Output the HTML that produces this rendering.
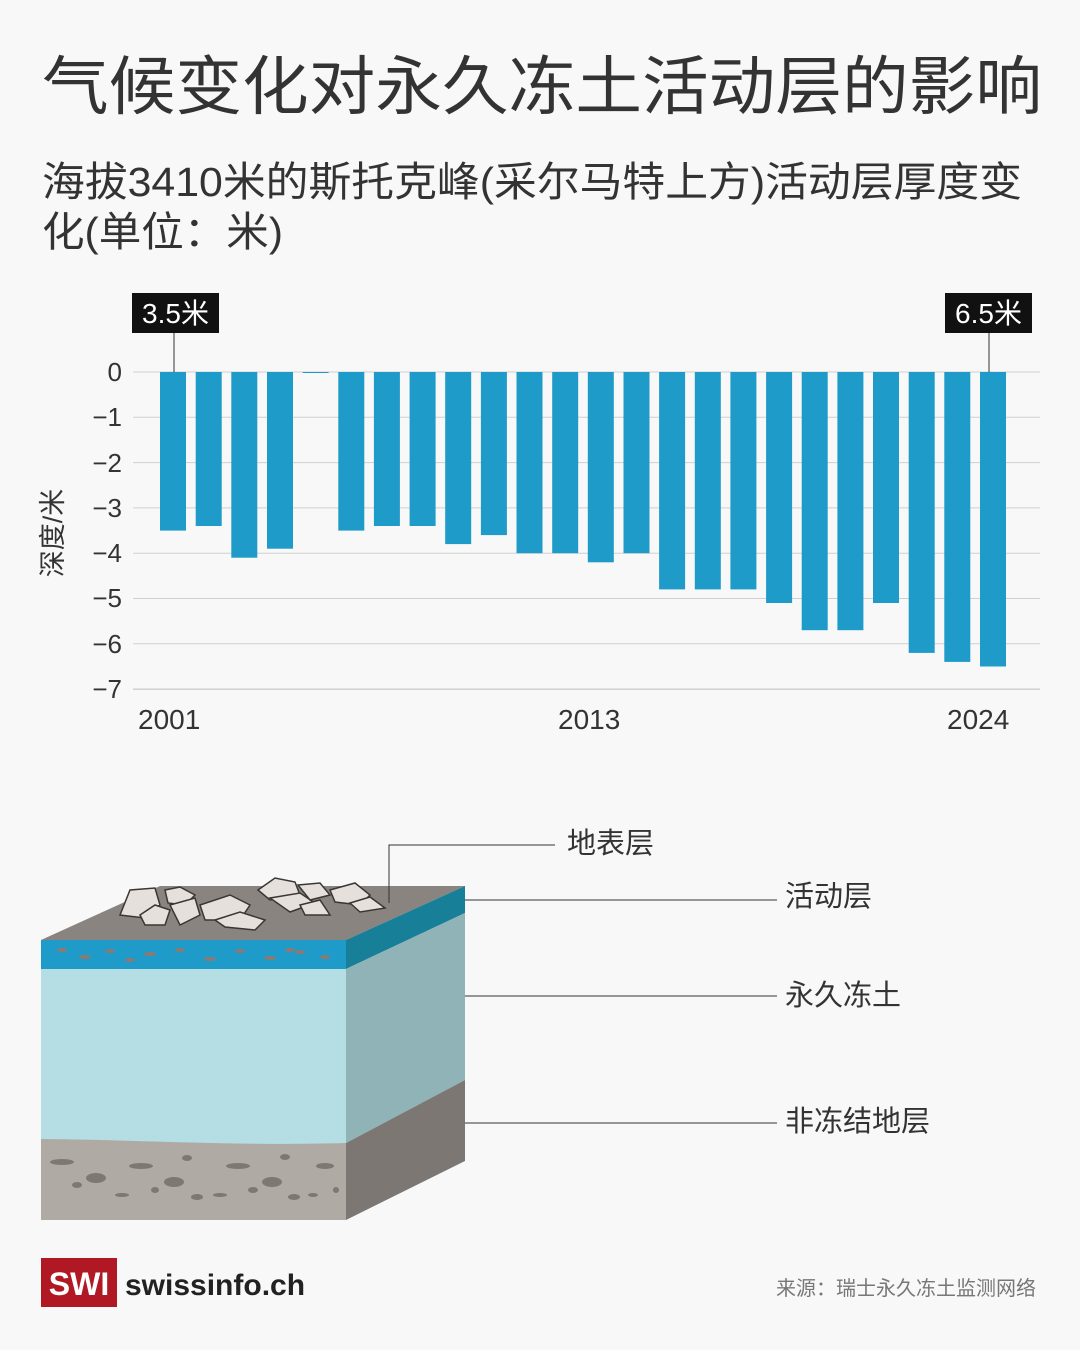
<!DOCTYPE html>
<html><head><meta charset="utf-8"><style>
body{margin:0;background:#f8f8f8;}
svg{display:block;font-family:"Liberation Sans","Noto Sans CJK SC",sans-serif;}
</style></head><body>
<svg width="1080" height="1350" viewBox="0 0 1080 1350" xmlns="http://www.w3.org/2000/svg">
<rect width="1080" height="1350" fill="#f8f8f8"/>
<text x="42" y="109" font-size="64" fill="#333" textLength="1000" lengthAdjust="spacingAndGlyphs">气候变化对永久冻土活动层的影响</text>
<text x="42" y="196" font-size="41" fill="#333" textLength="980" lengthAdjust="spacingAndGlyphs">海拔3410米的斯托克峰(采尔马特上方)活动层厚度变</text>
<text x="42" y="246" font-size="41" fill="#333" textLength="241" lengthAdjust="spacingAndGlyphs">化(单位：米)</text>

<g stroke="#d0d0d0" stroke-width="1">
<line x1="133" x2="1040" y1="372" y2="372"/><line x1="133" x2="1040" y1="417.3" y2="417.3"/>
<line x1="133" x2="1040" y1="462.6" y2="462.6"/><line x1="133" x2="1040" y1="507.9" y2="507.9"/>
<line x1="133" x2="1040" y1="553.2" y2="553.2"/><line x1="133" x2="1040" y1="598.5" y2="598.5"/>
<line x1="133" x2="1040" y1="643.8" y2="643.8"/><line x1="133" x2="1040" y1="689.1" y2="689.1" stroke="#bbb"/>
</g>
<g font-size="26" fill="#333" text-anchor="end">
<text x="122" y="381">0</text><text x="122" y="426">−1</text><text x="122" y="472">−2</text>
<text x="122" y="517">−3</text><text x="122" y="562">−4</text><text x="122" y="607">−5</text>
<text x="122" y="653">−6</text><text x="122" y="698">−7</text>
</g>
<text transform="translate(62,533) rotate(-90)" font-size="27" fill="#333" text-anchor="middle">深度/米</text>

<g fill="#1e9bc8">
<rect x="160" y="372" width="26" height="158.6"/>
<rect x="195.7" y="372" width="26" height="154"/>
<rect x="231.3" y="372" width="26" height="185.7"/>
<rect x="267" y="372" width="26" height="176.7"/>
<rect x="302.6" y="372" width="26" height="1"/>
<rect x="338.3" y="372" width="26" height="158.6"/>
<rect x="373.9" y="372" width="26" height="154"/>
<rect x="409.6" y="372" width="26" height="154"/>
<rect x="445.2" y="372" width="26" height="172.1"/>
<rect x="480.9" y="372" width="26" height="163.1"/>
<rect x="516.5" y="372" width="26" height="181.2"/>
<rect x="552.2" y="372" width="26" height="181.2"/>
<rect x="587.8" y="372" width="26" height="190.3"/>
<rect x="623.5" y="372" width="26" height="181.2"/>
<rect x="659.1" y="372" width="26" height="217.4"/>
<rect x="694.8" y="372" width="26" height="217.4"/>
<rect x="730.4" y="372" width="26" height="217.4"/>
<rect x="766.1" y="372" width="26" height="231"/>
<rect x="801.7" y="372" width="26" height="258.2"/>
<rect x="837.4" y="372" width="26" height="258.2"/>
<rect x="873" y="372" width="26" height="231"/>
<rect x="908.7" y="372" width="26" height="280.9"/>
<rect x="944.3" y="372" width="26" height="289.9"/>
<rect x="980" y="372" width="26" height="294.5"/>
</g>
<line x1="174" y1="333" x2="174" y2="372" stroke="#333"/>
<line x1="989" y1="333" x2="989" y2="372" stroke="#333"/>
<rect x="132" y="293" width="87" height="40" fill="#111"/>
<text x="175.5" y="323" font-size="28" fill="#fff" text-anchor="middle">3.5米</text>
<rect x="945" y="293" width="87" height="40" fill="#111"/>
<text x="988.5" y="323" font-size="28" fill="#fff" text-anchor="middle">6.5米</text>
<g font-size="28" fill="#333">
<text x="138" y="729">2001</text><text x="558" y="729">2013</text><text x="947" y="729">2024</text>
</g>

<!-- illustration -->
<polygon points="41,940 346,940 465,886 160,886" fill="#8a8480"/>
<rect x="41" y="940" width="305" height="29" fill="#1e9bc8"/>
<rect x="41" y="969" width="305" height="175" fill="#b4dee3"/>
<path d="M41,1139 C150,1140 230,1146 346,1143 L346,1220 L41,1220 Z" fill="#b0aaa5"/>
<polygon points="346,940 465,886 465,913 346,969" fill="#177f98"/>
<polygon points="346,969 465,913 465,1080 346,1143" fill="#8fb3b6"/>
<polygon points="346,1143 465,1080 465,1161 346,1220" fill="#7d7773"/>
<g fill="#8c7a72">
<ellipse cx="62" cy="950" rx="5" ry="2"/><ellipse cx="85" cy="957" rx="6" ry="2"/><ellipse cx="110" cy="951" rx="5" ry="2"/>
<ellipse cx="150" cy="954" rx="6" ry="2"/><ellipse cx="180" cy="950" rx="5" ry="2"/><ellipse cx="210" cy="959" rx="6" ry="2"/>
<ellipse cx="240" cy="951" rx="5" ry="2"/><ellipse cx="270" cy="958" rx="6" ry="2"/><ellipse cx="300" cy="952" rx="5" ry="2"/>
<ellipse cx="325" cy="957" rx="5" ry="2"/><ellipse cx="130" cy="960" rx="5" ry="2"/><ellipse cx="290" cy="950" rx="5" ry="2"/>
</g>
<g fill="#7e7773">
<ellipse cx="62" cy="1162" rx="12" ry="3"/><ellipse cx="96" cy="1178" rx="10" ry="5"/><ellipse cx="141" cy="1166" rx="12" ry="3"/>
<ellipse cx="187" cy="1158" rx="5" ry="3"/><ellipse cx="174" cy="1182" rx="10" ry="5"/><ellipse cx="238" cy="1166" rx="12" ry="3"/>
<ellipse cx="272" cy="1182" rx="10" ry="5"/><ellipse cx="285" cy="1157" rx="5" ry="3"/><ellipse cx="325" cy="1166" rx="9" ry="3"/>
<ellipse cx="77" cy="1185" rx="5" ry="3"/><ellipse cx="122" cy="1195" rx="7" ry="2"/><ellipse cx="155" cy="1190" rx="4" ry="3"/>
<ellipse cx="197" cy="1197" rx="6" ry="3"/><ellipse cx="220" cy="1195" rx="7" ry="2"/><ellipse cx="253" cy="1190" rx="5" ry="3"/>
<ellipse cx="294" cy="1197" rx="6" ry="3"/><ellipse cx="313" cy="1195" rx="5" ry="2"/><ellipse cx="336" cy="1190" rx="3" ry="3"/>
</g>
<g fill="#e6e0dd" stroke="#3a3634" stroke-width="1.5">
<path d="M120,915 L130,890 L155,888 L160,905 L145,918 Z"/><path d="M165,890 L180,887 L195,895 L185,905 L168,903 Z"/>
<path d="M140,915 L155,905 L170,910 L165,925 L145,925 Z"/><path d="M170,905 L195,898 L200,915 L180,925 Z"/>
<path d="M200,905 L230,895 L250,905 L240,920 L205,920 Z"/><path d="M215,920 L240,912 L265,920 L255,930 L225,927 Z"/>
<path d="M258,890 L275,878 L295,882 L300,895 L270,900 Z"/><path d="M270,898 L300,893 L315,903 L290,912 Z"/>
<path d="M298,885 L320,883 L330,895 L310,900 Z"/><path d="M300,905 L320,900 L330,915 L305,915 Z"/>
<path d="M330,890 L355,883 L370,895 L360,905 L335,902 Z"/><path d="M350,903 L370,897 L385,908 L360,912 Z"/>
</g>
<g stroke="#333" stroke-width="1" fill="none">
<polyline points="389,903 389,845 555,845"/>
<line x1="465" y1="900" x2="777" y2="900"/>
<line x1="465" y1="996" x2="777" y2="996"/>
<line x1="465" y1="1123" x2="777" y2="1123"/>
</g>
<g font-size="29" fill="#333">
<text x="567" y="853">地表层</text><text x="785" y="906">活动层</text>
<text x="785" y="1005">永久冻土</text><text x="785" y="1131">非冻结地层</text>
</g>

<rect x="41" y="1258" width="76" height="49" fill="#b01923"/>
<text x="79" y="1295" font-size="32" font-weight="bold" fill="#fff" text-anchor="middle">SWI</text>
<text x="125" y="1295" font-size="30" font-weight="bold" fill="#222">swissinfo.ch</text>
<text x="1036" y="1295" font-size="20" fill="#777" text-anchor="end">来源：瑞士永久冻土监测网络</text>
</svg>
</body></html>
